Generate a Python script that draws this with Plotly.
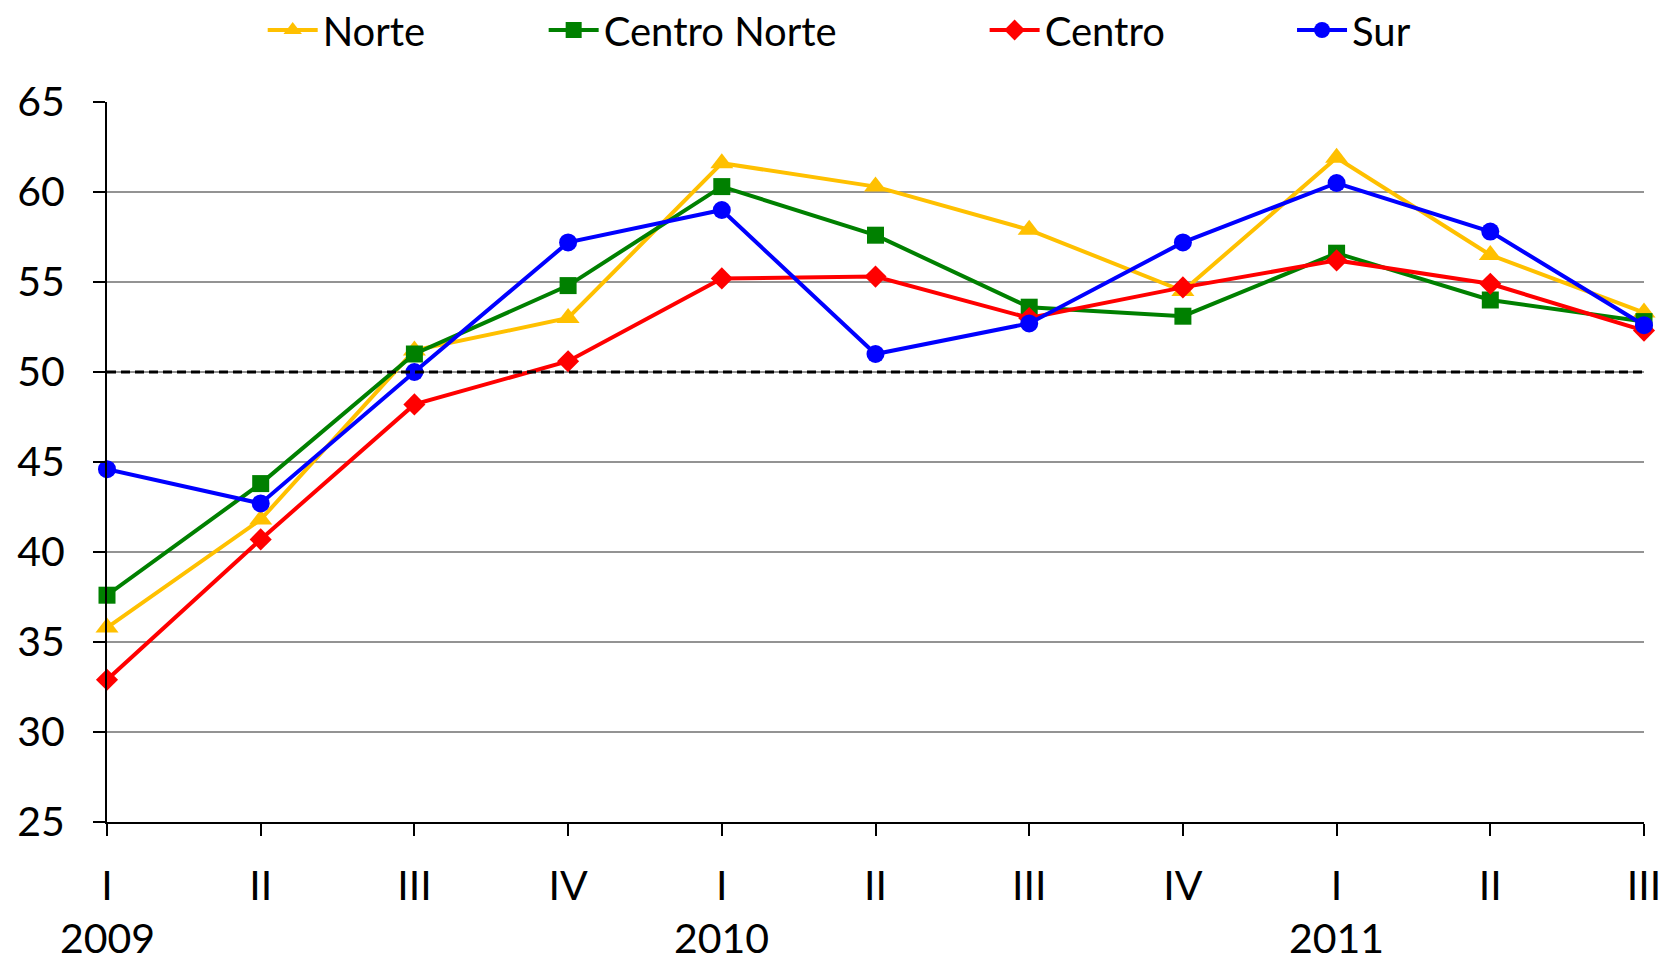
import plotly.graph_objects as go

quarters = ["I", "II", "III", "IV", "I", "II", "III", "IV", "I", "II", "III"]
years = ["2009", "2010", "2011"]
year_pos = [0, 4, 8]

norte = [35.8, 41.8, 51.2, 53.0, 61.6, 60.3, 57.9, 54.5, 61.9, 56.5, 53.3]
centro_norte = [37.6, 43.8, 51.0, 54.8, 60.3, 57.6, 53.6, 53.1, 56.6, 54.0, 52.8]
centro = [32.9, 40.7, 48.2, 50.6, 55.2, 55.3, 53.0, 54.7, 56.2, 54.9, 52.3]
sur = [44.6, 42.7, 50.0, 57.2, 59.0, 51.0, 52.7, 57.2, 60.5, 57.8, 52.6]

series = [
    ("Norte", norte, "#FFC000", "triangle-up", 20, "legend", 0.1013),
    ("Centro Norte", centro_norte, "#008000", "square", 17, "legend2", 0.2841),
    ("Centro", centro, "#FF0000", "diamond", 17, "legend3", 0.571),
    ("Sur", sur, "#0000FF", "circle", 18, "legend4", 0.771),
]

x = list(range(len(quarters)))
FONT = "Lato"
FS = 41

fig = go.Figure()
legends = {}
for name, vals, color, sym, size, lg, lx in series:
    fig.add_trace(go.Scatter(
        x=x, y=vals, name=name, mode="lines+markers",
        line=dict(color=color, width=4),
        marker=dict(color=color, symbol=sym, size=size),
        cliponaxis=False, legend=lg,
    ))
    legends[lg] = dict(orientation="h", x=lx, xanchor="left", y=1.10, yanchor="middle",
                       itemwidth=50, font=dict(family=FONT, size=40),
                       tracegroupgap=0, borderwidth=0,
                       bgcolor="rgba(0,0,0,0)")

fig.add_shape(type="line", xref="paper", yref="y", x0=0, x1=1, y0=50, y1=50,
              line=dict(color="black", width=3, dash="9px,5px"))

for yr, pos in zip(years, year_pos):
    fig.add_annotation(x=pos, y=-0.16, xref="x", yref="paper", text=yr,
                       showarrow=False, yanchor="middle",
                       font=dict(family=FONT, size=FS, color="black"))

fig.update_layout(
    width=1677, height=960,
    margin=dict(l=99, r=41, t=94, b=146, autoexpand=False),
    paper_bgcolor="white", plot_bgcolor="white",
    font=dict(family=FONT, size=FS, color="black"),
    showlegend=True,
    xaxis=dict(range=[0, 10], tickmode="array", tickvals=x, ticktext=quarters,
               showgrid=False, zeroline=False, showline=True, linecolor="black",
               linewidth=2, ticks="outside", ticklen=12, tickwidth=2, tickcolor="black",
               ticklabelstandoff=15, tickfont=dict(family=FONT, size=FS)),
    yaxis=dict(range=[25, 65], tickmode="linear", tick0=25, dtick=5,
               showgrid=True, gridcolor="#939393", gridwidth=2, zeroline=False,
               showline=True, linecolor="black", linewidth=2, ticks="outside",
               ticklen=12, tickwidth=2, tickcolor="black", ticklabelstandoff=20,
               tickfont=dict(family=FONT, size=FS)),
    **legends,
)

fig.write_html("out.html")
